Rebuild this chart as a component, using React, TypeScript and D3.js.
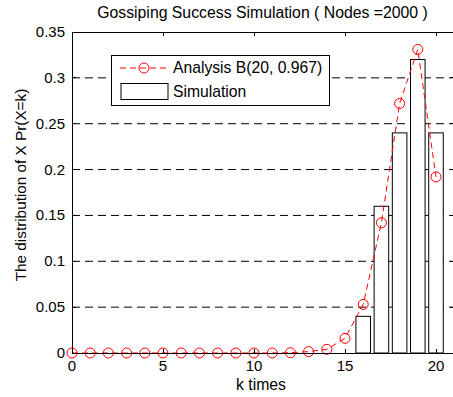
import { useEffect, useRef } from "react";
import * as d3 from "d3";

// values
const kValues = [0, 1, 2, 3, 4, 5, 6, 7, 8, 9, 10, 11, 12, 13, 14, 15, 16, 17, 18, 19, 20];
const analysis = [0, 0, 0, 0, 0, 0, 0, 0, 0, 0, 0, 0, 0.0003, 0.0015, 0.004, 0.016, 0.053, 0.142, 0.272, 0.331, 0.192];
const simK = [16, 17, 18, 19, 20];
const simulation = [0.04, 0.16, 0.24, 0.32, 0.24];
const xTicks = [0, 5, 10, 15, 20];
const yTicks = [0, 0.05, 0.1, 0.15, 0.2, 0.25, 0.3, 0.35];

const W = 453;
const H = 397;
const FONT = "'Liberation Sans', Arial, sans-serif";

export default function App() {
  const svgRef = useRef<SVGSVGElement>(null);

  useEffect(() => {
    if (!svgRef.current) return;
    const svg = d3.select(svgRef.current);
    svg.selectAll("*").remove();

    const left = 72, top = 32, bottom = 353;
    const x = d3.scaleLinear().domain([0, 21]).range([left, left + 21 * 18.2]);
    const y = d3.scaleLinear().domain([0, 0.35]).range([bottom, top]);
    const right = x(21);

    svg.append("rect").attr("width", W).attr("height", H).attr("fill", "#fff");

    // grid
    svg.append("g")
      .selectAll("line")
      .data(yTicks.slice(1, -1))
      .join("line")
      .attr("x1", left).attr("x2", right)
      .attr("y1", (d) => y(d)).attr("y2", (d) => y(d))
      .attr("stroke", "#000").attr("stroke-width", 1)
      .attr("stroke-dasharray", "8,5");

    // bars
    const bw = x(0.8) - x(0);
    svg.append("g")
      .selectAll("rect")
      .data(simK.map((k, i) => ({ k, v: simulation[i] })))
      .join("rect")
      .attr("x", (d) => x(d.k) - bw / 2)
      .attr("width", bw)
      .attr("y", (d) => y(d.v))
      .attr("height", (d) => y(0) - y(d.v))
      .attr("fill", "#fff").attr("stroke", "#000").attr("stroke-width", 1);

    // analysis line
    const pts = kValues.map((k, i) => [k, analysis[i]] as [number, number]);
    const line = d3.line<[number, number]>().x((d) => x(d[0])).y((d) => y(d[1]));
    svg.append("path")
      .attr("d", line(pts))
      .attr("fill", "none").attr("stroke", "#ff0000").attr("stroke-width", 1)
      .attr("stroke-dasharray", "6,4");
    svg.append("g")
      .selectAll("circle")
      .data(pts)
      .join("circle")
      .attr("cx", (d) => x(d[0])).attr("cy", (d) => y(d[1])).attr("r", 5)
      .attr("fill", "none").attr("stroke", "#ff0000").attr("stroke-width", 1);

    // frame
    const axes = svg.append("g").attr("stroke", "#000").attr("stroke-width", 1).attr("shape-rendering", "crispEdges");
    axes.append("line").attr("x1", left).attr("x2", right).attr("y1", top).attr("y2", top);
    axes.append("line").attr("x1", left).attr("x2", right).attr("y1", bottom).attr("y2", bottom);
    axes.append("line").attr("x1", left).attr("x2", left).attr("y1", top).attr("y2", bottom);
    axes.append("line").attr("x1", right).attr("x2", right).attr("y1", top).attr("y2", bottom);

    // ticks (inward)
    const tl = 4;
    xTicks.forEach((t) => {
      axes.append("line").attr("x1", x(t)).attr("x2", x(t)).attr("y1", bottom).attr("y2", bottom - tl);
      axes.append("line").attr("x1", x(t)).attr("x2", x(t)).attr("y1", top).attr("y2", top + tl);
    });
    yTicks.forEach((t) => {
      axes.append("line").attr("x1", left).attr("x2", left + tl).attr("y1", y(t)).attr("y2", y(t));
      axes.append("line").attr("x1", right).attr("x2", right - tl).attr("y1", y(t)).attr("y2", y(t));
    });

    const txt = svg.append("g").attr("font-family", FONT).attr("fill", "#000");
    txt.selectAll("text.xt")
      .data(xTicks)
      .join("text")
      .attr("class", "xt")
      .attr("x", (d) => x(d)).attr("y", bottom + 18)
      .attr("text-anchor", "middle").attr("font-size", 15)
      .text((d) => String(d));
    txt.selectAll("text.yt")
      .data(yTicks)
      .join("text")
      .attr("class", "yt")
      .attr("x", left - 7).attr("y", (d) => y(d) + 5)
      .attr("text-anchor", "end").attr("font-size", 15)
      .text((d) => (d === 0 ? "0" : String(d)));

    txt.append("text")
      .attr("x", 262.5).attr("y", 18)
      .attr("text-anchor", "middle").attr("font-size", 15.8)
      .text("Gossiping Success Simulation ( Nodes =2000 )");
    txt.append("text")
      .attr("x", 261).attr("y", 390)
      .attr("text-anchor", "middle").attr("font-size", 15.8)
      .text("k times");
    txt.append("text")
      .attr("transform", `translate(26,185) rotate(-90)`)
      .attr("text-anchor", "middle").attr("font-size", 15.3)
      .text("The distribution of X Pr(X=k)");

    // legend
    const lg = svg.append("g");
    lg.append("rect")
      .attr("x", 111).attr("y", 55).attr("width", 218).attr("height", 50)
      .attr("fill", "#fff").attr("stroke", "#000").attr("stroke-width", 1)
      .attr("shape-rendering", "crispEdges");
    lg.append("line")
      .attr("x1", 120).attr("x2", 168).attr("y1", 68).attr("y2", 68)
      .attr("stroke", "#ff0000").attr("stroke-dasharray", "6,4");
    lg.append("circle").attr("cx", 144).attr("cy", 68).attr("r", 5)
      .attr("fill", "none").attr("stroke", "#ff0000");
    lg.append("rect")
      .attr("x", 121).attr("y", 83.5).attr("width", 47).attr("height", 16)
      .attr("fill", "#fff").attr("stroke", "#000");
    lg.append("text")
      .attr("x", 173).attr("y", 73).attr("font-family", FONT).attr("font-size", 15.7)
      .text("Analysis B(20, 0.967)");
    lg.append("text")
      .attr("x", 173).attr("y", 97).attr("font-family", FONT).attr("font-size", 15.7)
      .text("Simulation");
  }, []);

  return (
    <svg
      ref={svgRef}
      width={W}
      height={H}
      style={{ position: "absolute", left: 0, top: 0 }}
    />
  );
}
